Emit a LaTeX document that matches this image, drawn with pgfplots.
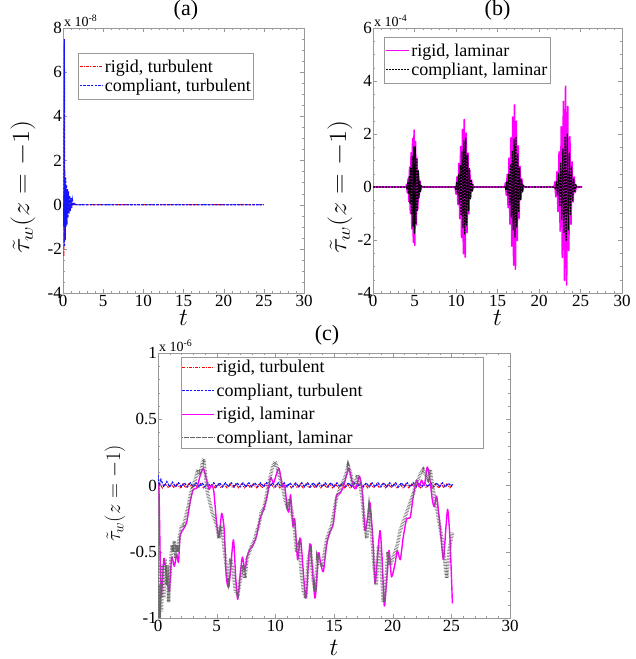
\documentclass[border=0pt]{standalone}
\usepackage{fontspec}
\setmainfont{Liberation Serif}
\usepackage{pgfplots}
\pgfplotsset{compat=1.18}

\definecolor{frame}{gray}{0.6}
\definecolor{tblue}{RGB}{20,20,255}
\definecolor{mag}{RGB}{255,0,255}
\definecolor{tred}{RGB}{255,0,0}

\pgfplotsset{
  panel/.style={
    scale only axis, clip mode=individual,
    xmin=0, xmax=30, xtick={0,5,...,30}, minor x tick num=4,
    axis line style={frame}, tick style={frame},
    major tick length=4pt, minor tick length=2pt,
    tick label style={font=\fontsize{17}{17}\selectfont, black},
    /pgf/number format/assume math mode=true,
    xticklabel style={inner ysep=1pt, yshift=-1pt}, yticklabel style={inner xsep=1pt},
    title style={font=\fontsize{22}{22}\selectfont, anchor=center, inner sep=0pt},
    label style={font=\fontsize{24}{24}\selectfont},
    xlabel={$t$},
    legend cell align=left,
    legend style={anchor=north west, draw=frame, fill=white,
      font=\fontsize{18}{20}\selectfont, inner xsep=1pt, inner ysep=5pt, row sep=2pt,
      nodes={inner sep=1.5pt}},
  },
}

\begin{document}
\begin{tikzpicture}
\path[use as bounding box] (0pt,0pt) rectangle (635pt,659pt);

% (a)
\begin{axis}[panel, at={(63pt,366pt)}, anchor=south west, width=241pt, height=265pt,
  ymin=-4, ymax=8, ytick={-4,-2,...,8}, minor y tick num=3,
  title={(a)}, title style={at={(0.51,1.043)}},
  xlabel style={at={(axis description cs:0.5,-0.094)}, anchor=center},
  ylabel={\scalebox{1.15}[1]{$\tilde{\tau}_w(z=-1)$}},
  ylabel style={at={(axis description cs:-0.166,0.40)}, anchor=center},
  legend style={at={(0.062,0.906)}},
  legend image code/.code={\draw[#1] (0pt,0pt) -- (23pt,0pt);}]
\addplot[color=tred, line width=1pt, dash pattern=on 3pt off 1.2pt on 1pt off 1.2pt, forget plot] coordinates {(0,0) (0.08,0.5) (0.12,-2.35) (0.16,5.0) (0.19,-1.6) (0.23,1.6)
  (0.27,-1.2) (0.31,0.8) (0.36,-0.8) (0.42,0.6) (0.48,-0.5) (0.55,0.4) (0.63,-0.3)
  (0.72,0.25) (0.82,-0.15) (0.95,0.1) (1.1,-0.05) (1.3,0.03) (1.5,0) (25,0)};
\addlegendimage{color=tred, line width=1.2pt, dash pattern=on 3pt off 1.2pt on 1pt off 1.2pt}
\addlegendentry{rigid, turbulent}
\addplot[color=tblue, line width=1.2pt, dash pattern=on 2.5pt off 1.2pt, forget plot] coordinates {(0,0) (0.1,-1.0) (0.17,7.5) (0.2,-1.9) (0.24,1.25) (0.28,-1.6)
  (0.33,1.2) (0.38,-1.0) (0.43,0.9) (0.49,-0.9) (0.55,0.7) (0.61,-0.6) (0.68,0.6)
  (0.75,-0.4) (0.83,0.4) (0.91,-0.3) (0.99,0.3) (1.08,-0.15) (1.17,0.2) (1.27,-0.05)
  (1.42,0.08) (1.6,0) (25,0)};
\addlegendimage{color=tblue, line width=1.2pt, dash pattern=on 2.5pt off 1.2pt}
\addlegendentry{compliant, turbulent}
\node[anchor=south west, inner sep=1pt, font=\fontsize{14}{14}\selectfont] at (rel axis cs:0,1) {x 10\textsuperscript{-8}};
\end{axis}

% (b)
\begin{axis}[panel, at={(373pt,366pt)}, anchor=south west, width=249pt, height=265pt,
  ymin=-4, ymax=6, ytick={-4,-2,...,6}, minor y tick num=3,
  title={(b)}, title style={at={(0.5,1.043)}},
  xlabel style={at={(axis description cs:0.5,-0.094)}, anchor=center},
  ylabel={\scalebox{1.15}[1]{$\tilde{\tau}_w(z=-1)$}},
  ylabel style={at={(axis description cs:-0.133,0.40)}, anchor=center},
  legend style={at={(0.044,0.966)}},
  legend image code/.code={\draw[#1] (0pt,0pt) -- (23pt,0pt);}]
\addplot[color=mag, line width=1.6pt, line join=round] coordinates {(0,0) (3.96,0)
  (4.05,0.1) (4.14,-0.22) (4.23,0.32) (4.32,-0.55) (4.41,0.75) (4.5,-0.99) (4.59,1.29)
  (4.68,-1.58) (4.77,1.83) (4.86,-2.09) (4.95,2.15) (5.04,-2.2) (5.13,1.72) (5.22,-1.43)
  (5.31,1.08) (5.4,-0.84) (5.49,0.54) (5.58,-0.33) (5.67,0.22) (5.76,-0.11) (5.85,0)
  (9.9,0) (10.01,-0.27) (10.12,0.38) (10.23,-0.66) (10.34,0.89) (10.45,-1.19) (10.56,1.53)
  (10.67,-1.91) (10.78,2.17) (10.89,-2.52) (11.0,2.55) (11.11,-2.65) (11.22,2.04)
  (11.33,-1.72) (11.44,1.28) (11.55,-1.01) (11.66,0.64) (11.77,-0.4) (11.88,0.26)
  (11.99,-0.13) (12.1,0)
  (15.88,0) (15.95,0.16) (16.06,-0.31) (16.17,0.47) (16.28,-0.78) (16.39,1.09) (16.5,-1.4)
  (16.61,1.86) (16.72,-2.23) (16.83,2.64) (16.94,-2.95) (17.05,3.1) (17.16,-3.1)
  (17.27,2.48) (17.38,-2.02) (17.49,1.55) (17.6,-1.18) (17.71,0.78) (17.82,-0.47)
  (17.93,0.31) (18.04,-0.16) (18.15,0)
  (21.82,0) (21.9,0.19) (22.03,-0.37) (22.16,0.57) (22.29,-0.93) (22.42,1.33) (22.55,-1.67)
  (22.68,2.28) (22.81,-2.66) (22.94,3.23) (23.07,-3.52) (23.2,3.8) (23.33,-3.7)
  (23.46,3.04) (23.59,-2.4) (23.72,1.9) (23.85,-1.41) (23.98,0.95) (24.11,-0.56)
  (24.24,0.38) (24.37,-0.19) (24.5,0) (25.2,0)};
\addplot[color=black, line width=1.2pt, line join=round, dash pattern=on 2pt off 1pt] coordinates {(0,0) (4.03,0) (4.1,-0.08)
  (4.19,0.16) (4.28,-0.26) (4.37,0.4) (4.46,-0.61) (4.55,0.72) (4.64,-1.05) (4.73,1.15)
  (4.82,-1.49) (4.91,1.52) (5.0,-1.75) (5.09,1.52) (5.18,-1.4) (5.27,1.04) (5.36,-0.88)
  (5.45,0.61) (5.54,-0.44) (5.63,0.24) (5.72,-0.18) (5.81,0.08) (5.9,0)
  (9.9,0) (9.96,-0.09) (10.07,0.19) (10.18,-0.27) (10.29,0.46) (10.4,-0.63) (10.51,0.83)
  (10.62,-1.08) (10.73,1.33) (10.84,-1.53) (10.95,1.76) (11.06,-1.8) (11.17,1.85)
  (11.28,-1.44) (11.39,1.2) (11.5,-0.9) (11.61,0.7) (11.72,-0.45) (11.83,0.28)
  (11.94,-0.18) (12.05,0.09) (12.16,0)
  (15.95,0) (16.01,-0.1) (16.12,0.19) (16.23,-0.29) (16.34,0.48) (16.45,-0.67) (16.56,0.86)
  (16.67,-1.14) (16.78,1.37) (16.89,-1.62) (17.0,1.81) (17.11,-1.9) (17.22,1.9)
  (17.33,-1.52) (17.44,1.24) (17.55,-0.95) (17.66,0.72) (17.77,-0.48) (17.88,0.29)
  (17.99,-0.19) (18.1,0.1) (18.21,0)
  (21.9,0) (21.97,-0.1) (22.1,0.2) (22.23,-0.31) (22.36,0.5) (22.49,-0.72) (22.62,0.9)
  (22.75,-1.23) (22.88,1.44) (23.01,-1.74) (23.14,1.9) (23.27,-2.05) (23.4,2.0)
  (23.53,-1.64) (23.66,1.3) (23.79,-1.03) (23.92,0.76) (24.05,-0.51) (24.18,0.3)
  (24.31,-0.2) (24.44,0.1) (24.57,0) (25.2,0)};
\legend{{rigid, laminar},{compliant, laminar}}
\node[anchor=south west, inner sep=1pt, font=\fontsize{14}{14}\selectfont] at (rel axis cs:0,1) {x 10\textsuperscript{-4}};
\end{axis}

% (c)
\begin{axis}[panel, at={(158pt,41pt)}, anchor=south west, width=352pt, height=265pt,
  ymin=-1, ymax=1, ytick={-1,-0.5,0,0.5,1}, minor y tick num=4,
  title={(c)}, title style={at={(0.48,1.045)}},
  xlabel style={at={(axis description cs:0.5,-0.113)}, anchor=center},
  ylabel={$\tilde{\tau}_w(z=-1)$},
  ylabel style={at={(axis description cs:-0.122,0.47)}, anchor=center, font=\fontsize{21}{21}\selectfont},
  legend style={at={(0.064,0.986)}, inner ysep=2pt, row sep=6.5pt},
  legend image code/.code={\draw[#1] (0pt,0pt) -- (32pt,0pt);}]
\addplot[color=tred, line width=1pt, dash pattern=on 3pt off 1.2pt on 1pt off 1.2pt, forget plot] coordinates {(0,0) (0.05,-0.03) (0.125,0.015) (0.375,-0.018) (0.625,0.012)
  (0.875,-0.018) (1.125,0.012) (1.375,-0.018) (1.625,0.012) (1.875,-0.018) (2.125,0.012)
  (2.375,-0.018) (2.625,0.012) (2.875,-0.018) (3.125,0.012) (3.375,-0.018) (3.625,0.012)
  (3.875,-0.018) (4.125,0.012) (4.375,-0.018) (4.625,0.012) (4.875,-0.018) (5.125,0.012)
  (5.375,-0.018) (5.625,0.012) (5.875,-0.018) (6.125,0.012) (6.375,-0.018) (6.625,0.012)
  (6.875,-0.018) (7.125,0.012) (7.375,-0.018) (7.625,0.012) (7.875,-0.018) (8.125,0.012)
  (8.375,-0.018) (8.625,0.012) (8.875,-0.018) (9.125,0.012) (9.375,-0.018) (9.625,0.012)
  (9.875,-0.018) (10.125,0.012) (10.375,-0.018) (10.625,0.012) (10.875,-0.018) (11.125,0.012)
  (11.375,-0.018) (11.625,0.012) (11.875,-0.018) (12.125,0.012) (12.375,-0.018) (12.625,0.012)
  (12.875,-0.018) (13.125,0.012) (13.375,-0.018) (13.625,0.012) (13.875,-0.018) (14.125,0.012)
  (14.375,-0.018) (14.625,0.012) (14.875,-0.018) (15.125,0.012) (15.375,-0.018) (15.625,0.012)
  (15.875,-0.018) (16.125,0.012) (16.375,-0.018) (16.625,0.012) (16.875,-0.018) (17.125,0.012)
  (17.375,-0.018) (17.625,0.012) (17.875,-0.018) (18.125,0.012) (18.375,-0.018) (18.625,0.012)
  (18.875,-0.018) (19.125,0.012) (19.375,-0.018) (19.625,0.012) (19.875,-0.018) (20.125,0.012)
  (20.375,-0.018) (20.625,0.012) (20.875,-0.018) (21.125,0.012) (21.375,-0.018) (21.625,0.012)
  (21.875,-0.018) (22.125,0.012) (22.375,-0.018) (22.625,0.012) (22.875,-0.018) (23.125,0.012)
  (23.375,-0.018) (23.625,0.012) (23.875,-0.018) (24.125,0.012) (24.375,-0.018) (24.625,0.012)
  (24.875,-0.018) (25.1,0.005)};
\addlegendimage{color=tred, line width=1.2pt, dash pattern=on 3pt off 1.2pt on 1pt off 1.2pt}
\addlegendentry{rigid, turbulent}
\addplot[color=tblue, line width=1.2pt, dash pattern=on 2.5pt off 1.2pt, forget plot] coordinates {(0,0.08) (0.1,0) (0.25,0.045) (0.5,-0.01) (0.75,0.03) (1,-0.01)
  (1.25,0.025) (1.5,-0.01) (1.75,0.02) (2,-0.01) (2.25,0.02) (2.5,-0.01) (2.75,0.02) (3,-0.01)
  (3.25,0.02) (3.5,-0.01) (3.75,0.02) (4,-0.01) (4.25,0.02) (4.5,-0.01) (4.75,0.02) (5,-0.01)
  (5.25,0.02) (5.5,-0.01) (5.75,0.02) (6,-0.01) (6.25,0.02) (6.5,-0.01) (6.75,0.02) (7,-0.01)
  (7.25,0.02) (7.5,-0.01) (7.75,0.02) (8,-0.01) (8.25,0.02) (8.5,-0.01) (8.75,0.02) (9,-0.01)
  (9.25,0.02) (9.5,-0.01) (9.75,0.02) (10,-0.01) (10.25,0.02) (10.5,-0.01) (10.75,0.02) (11,-0.01)
  (11.25,0.02) (11.5,-0.01) (11.75,0.02) (12,-0.01) (12.25,0.02) (12.5,-0.01) (12.75,0.02) (13,-0.01)
  (13.25,0.02) (13.5,-0.01) (13.75,0.02) (14,-0.01) (14.25,0.02) (14.5,-0.01) (14.75,0.02) (15,-0.01)
  (15.25,0.02) (15.5,-0.01) (15.75,0.02) (16,-0.01) (16.25,0.02) (16.5,-0.01) (16.75,0.02) (17,-0.01)
  (17.25,0.02) (17.5,-0.01) (17.75,0.02) (18,-0.01) (18.25,0.02) (18.5,-0.01) (18.75,0.02) (19,-0.01)
  (19.25,0.02) (19.5,-0.01) (19.75,0.02) (20,-0.01) (20.25,0.02) (20.5,-0.01) (20.75,0.02) (21,-0.01)
  (21.25,0.02) (21.5,-0.01) (21.75,0.02) (22,-0.01) (22.25,0.02) (22.5,-0.01) (22.75,0.02) (23,-0.01)
  (23.25,0.02) (23.5,-0.01) (23.75,0.02) (24,-0.01) (24.25,0.02) (24.5,-0.01) (24.75,0.015)
  (25,-0.005) (25.1,0.01)};
\addlegendimage{color=tblue, line width=1.2pt, dash pattern=on 2.5pt off 1.2pt}
\addlegendentry{compliant, turbulent\hspace*{118pt}}
\addplot[color=mag, line width=1.4pt, line join=round, smooth, tension=0.4, forget plot] coordinates {(0,0) (0.09,-0.06) (0.26,-0.84)
  (0.5,-0.55) (0.75,-0.7) (0.97,-0.8) (1.16,-0.54) (1.39,-0.61) (1.59,-0.52) (1.75,-0.58)
  (1.88,-0.38) (2.16,-0.33) (2.44,-0.28) (2.73,-0.13) (3.0,-0.03) (3.3,-0.02) (3.58,0.07)
  (3.86,0.13) (4.15,0.04) (4.35,-0.03) (4.55,0.0) (4.75,-0.04) (5.0,-0.29) (5.2,-0.39)
  (5.43,-0.21) (5.65,-0.34) (5.82,-0.69) (6.05,-0.76) (6.42,-0.41) (6.62,-0.69) (6.79,-0.86)
  (6.99,-0.69) (7.19,-0.54) (7.41,-0.64) (7.59,-0.54) (7.84,-0.48) (8.1,-0.45) (8.4,-0.38)
  (8.7,-0.25) (9.0,-0.18) (9.3,-0.08) (9.6,0.06) (9.85,0.02) (10.3,0.13) (10.6,-0.01)
  (10.8,0.0) (11.0,-0.16) (11.15,-0.2) (11.3,-0.07) (11.5,-0.31) (11.65,-0.25) (11.9,-0.56)
  (12.15,-0.4) (12.6,-0.85) (12.95,-0.44) (13.38,-0.85) (13.67,-0.51) (13.85,-0.58)
  (14.09,-0.65) (14.38,-0.44) (14.66,-0.35) (14.94,-0.29) (15.2,-0.08) (15.5,-0.06)
  (15.8,-0.01) (16.1,0.09) (16.28,0.13) (16.65,-0.01) (16.9,-0.02) (17.16,0.07) (17.4,-0.03)
  (17.64,-0.34) (17.85,-0.25) (18.07,-0.13) (18.3,-0.4) (18.5,-0.74) (18.7,-0.55) (18.92,-0.34)
  (19.1,-0.55) (19.29,-0.91) (19.5,-0.7) (19.69,-0.49) (19.9,-0.69) (20.2,-0.59) (20.4,-0.49)
  (20.65,-0.56) (20.9,-0.39) (21.2,-0.25) (21.5,-0.24) (21.76,-0.08) (22.04,0.04) (22.24,-0.01)
  (22.47,0.04) (22.7,0.0) (22.95,0.14) (23.18,0.04) (23.38,-0.11) (23.55,-0.16) (23.75,-0.08)
  (24.04,-0.31) (24.32,-0.56) (24.52,-0.34) (24.69,-0.18) (24.89,-0.41) (25.09,-0.89)};
\addlegendimage{color=mag, line width=1.4pt}
\addlegendentry{rigid, laminar}
\addplot[color=black!60, line width=3.5pt, dash pattern=on 0.5pt off 1pt, forget plot]
  coordinates {(0,0) (0.05,-0.5)
  (0.1,-1.0) (0.2,-0.75) (0.3,-0.95) (0.4,-0.6) (0.5,-0.85) (0.6,-0.55) (0.7,-0.75) (0.8,-0.6)
  (0.9,-0.88) (1.0,-0.7) (1.1,-0.55) (1.2,-0.45) (1.3,-0.5) (1.4,-0.42) (1.5,-0.55) (1.6,-0.45)
  (1.7,-0.5) (1.8,-0.4) (1.9,-0.35) (2.0,-0.3) (2.2,-0.3) (2.4,-0.22) (2.6,-0.15) (2.8,-0.05)
  (3.0,0.0) (3.2,0.05) (3.4,0.12) (3.6,0.08) (3.8,0.18) (3.9,0.2) (4.0,0.12) (4.2,-0.05)
  (4.4,-0.12) (4.6,-0.2) (4.8,-0.25) (5.0,-0.3) (5.2,-0.4) (5.4,-0.3) (5.6,-0.45) (5.8,-0.6)
  (6.0,-0.7) (6.2,-0.55) (6.4,-0.65) (6.6,-0.8) (6.8,-0.82) (7.0,-0.72) (7.2,-0.6) (7.4,-0.7)
  (7.6,-0.55) (7.8,-0.5) (8.0,-0.45) (8.2,-0.42) (8.4,-0.35) (8.6,-0.3) (8.8,-0.2) (9.0,-0.18)
  (9.2,-0.1) (9.4,0.0) (9.6,0.08) (9.8,0.15) (10.0,0.18) (10.2,0.12) (10.4,0.05) (10.6,0.0)
  (10.8,-0.1) (11.0,-0.15) (11.2,-0.1) (11.4,-0.2) (11.6,-0.3) (11.8,-0.5) (12.0,-0.45)
  (12.2,-0.65) (12.4,-0.8) (12.6,-0.85) (12.8,-0.55) (13.0,-0.5) (13.2,-0.7) (13.4,-0.8)
  (13.6,-0.55) (13.8,-0.6) (14.0,-0.6) (14.2,-0.5) (14.4,-0.4) (14.6,-0.35) (14.8,-0.3)
  (15.0,-0.2) (15.2,-0.1) (15.4,-0.05) (15.6,0.0) (15.8,0.03) (16.0,0.08) (16.2,0.15)
  (16.4,0.1) (16.6,0.0) (16.8,0.02) (17.0,0.08) (17.2,0.02) (17.4,-0.1) (17.6,-0.3) (17.8,-0.4)
  (18.0,-0.2) (18.2,-0.35) (18.4,-0.6) (18.6,-0.75) (18.8,-0.45) (19.0,-0.6) (19.2,-0.88)
  (19.4,-0.75) (19.6,-0.5) (19.8,-0.6) (20.0,-0.55) (20.2,-0.5) (20.4,-0.45) (20.6,-0.35)
  (20.8,-0.3) (21.0,-0.25) (21.2,-0.2) (21.4,-0.15) (21.6,-0.1) (21.8,-0.05) (22.0,0.02)
  (22.2,0.05) (22.4,0.1) (22.6,0.12) (22.8,0.08) (23.0,0.05) (23.2,0.12) (23.4,0.0) (23.6,-0.1)
  (23.8,-0.2) (24.0,-0.3) (24.2,-0.4) (24.4,-0.55) (24.6,-0.7) (24.8,-0.5) (25.0,-0.4) (25.1,-0.35)};
\addlegendimage{color=black!60, line width=1pt, dash pattern=on 0.6pt off 0.6pt}
\addlegendentry{compliant, laminar}
\node[anchor=south west, inner sep=1pt, font=\fontsize{14}{14}\selectfont] at (rel axis cs:0,1) {x 10\textsuperscript{-6}};
\end{axis}
\end{tikzpicture}
\end{document}
